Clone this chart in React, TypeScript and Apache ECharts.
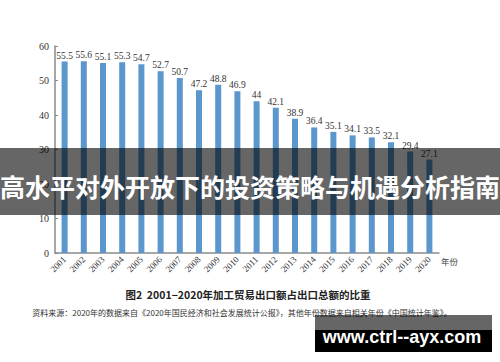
import React, { useEffect, useRef } from "react";
import * as echarts from "echarts";

const years = ["2001","2002","2003","2004","2005","2006","2007","2008","2009","2010","2011","2012","2013","2014","2015","2016","2017","2018","2019","2020"];
const shares = [55.5,55.6,55.1,55.3,54.7,52.7,50.7,47.2,48.8,46.9,44,42.1,38.9,36.4,35.1,34.1,33.5,32.1,29.4,27.1];
const yTicks = [0, 10, 20, 30, 40, 50, 60];

const titleText = "图2  2001−2020年加工贸易出口额占出口总额的比重";
const sourceText = "资料来源：2020年的数据来自《2020年国民经济和社会发展统计公报》，其他年份数据来自相关年份《中国统计年鉴》。";
const bannerText = "高水平对外开放下的投资策略与机遇分析指南";
const watermarkText = "www.ctrl--ayx.com";
const xName = "年份";

const serif = "'Liberation Serif', 'DejaVu Serif', serif";
const cjk = "'Noto Sans CJK SC', sans-serif";

export default function App() {
  const ref = useRef<HTMLDivElement>(null);
  useEffect(() => {
    if (!ref.current) return;
    const chart = echarts.init(ref.current, null, { renderer: "svg" });
    chart.setOption({
      animation: false,
      backgroundColor: "#ffffff",
      grid: { left: 55, top: 46, width: 384, height: 207 },
      xAxis: {
        type: "category",
        data: years,
        axisLine: { lineStyle: { color: "#8a8a8a", width: 1.5 } },
        axisTick: { show: false },
        axisLabel: {
          rotate: 45,
          interval: 0,
          margin: 5,
          fontFamily: serif,
          fontSize: 9,
          color: "#333",
        },
      },
      yAxis: {
        type: "value",
        min: yTicks[0],
        max: yTicks[yTicks.length - 1],
        interval: 10,
        axisLine: { show: true, lineStyle: { color: "#8a8a8a", width: 1.5 } },
        axisTick: { show: true, inside: true, length: 3, lineStyle: { color: "#8a8a8a" } },
        splitLine: { show: false },
        axisLabel: { fontFamily: serif, fontSize: 10, color: "#333", margin: 6 },
      },
      series: [
        {
          type: "bar",
          data: shares,
          barWidth: 6,
          itemStyle: { color: "#5b96cc" },
          label: {
            show: true,
            position: "top",
            distance: 1,
            fontFamily: serif,
            fontSize: 9.5,
            color: "#333",
          },
        },
      ],
      graphic: [
        {
          type: "text",
          left: 441,
          top: 257,
          style: { text: xName, fontFamily: cjk, fontSize: 8.5, fill: "#444" },
        },
        {
          type: "text",
          x: 248,
          y: 294,
          style: {
            text: titleText,
            fontFamily: cjk,
            fontWeight: "bold",
            fontSize: 10.5,
            fill: "#222",
            align: "center",
            verticalAlign: "middle",
          },
        },
        {
          type: "text",
          x: 242,
          y: 312,
          style: {
            text: sourceText,
            fontFamily: cjk,
            fontSize: 8,
            fill: "#333",
            align: "center",
            verticalAlign: "middle",
          },
        },
        {
          type: "rect",
          z: 100,
          shape: { x: 0, y: 148, width: 500, height: 67 },
          style: { fill: "rgba(0,0,0,0.6)" },
        },
        {
          type: "text",
          z: 101,
          x: 250,
          y: 186,
          style: {
            text: bannerText,
            fontFamily: cjk,
            fontWeight: "bold",
            fontSize: 25,
            fill: "#ffffff",
            align: "center",
            verticalAlign: "middle",
          },
        },
        {
          type: "rect",
          z: 100,
          shape: { x: 315, y: 315, width: 177, height: 15 },
          style: { fill: "rgba(0,0,0,0.6)" },
        },
        {
          type: "rect",
          z: 100,
          shape: { x: 315, y: 330, width: 177, height: 22 },
          style: { fill: "#000000" },
        },
        {
          type: "text",
          z: 101,
          x: 402,
          y: 337,
          style: {
            text: watermarkText,
            fontFamily: "'Liberation Sans', Arial, sans-serif",
            fontWeight: "bold",
            fontSize: 18,
            fill: "#ffffff",
            align: "center",
            verticalAlign: "middle",
          },
        },
      ],
    });
    return () => chart.dispose();
  }, []);
  return <div ref={ref} style={{ width: 500, height: 362, position: "absolute", left: 0, top: 0 }} />;
}
